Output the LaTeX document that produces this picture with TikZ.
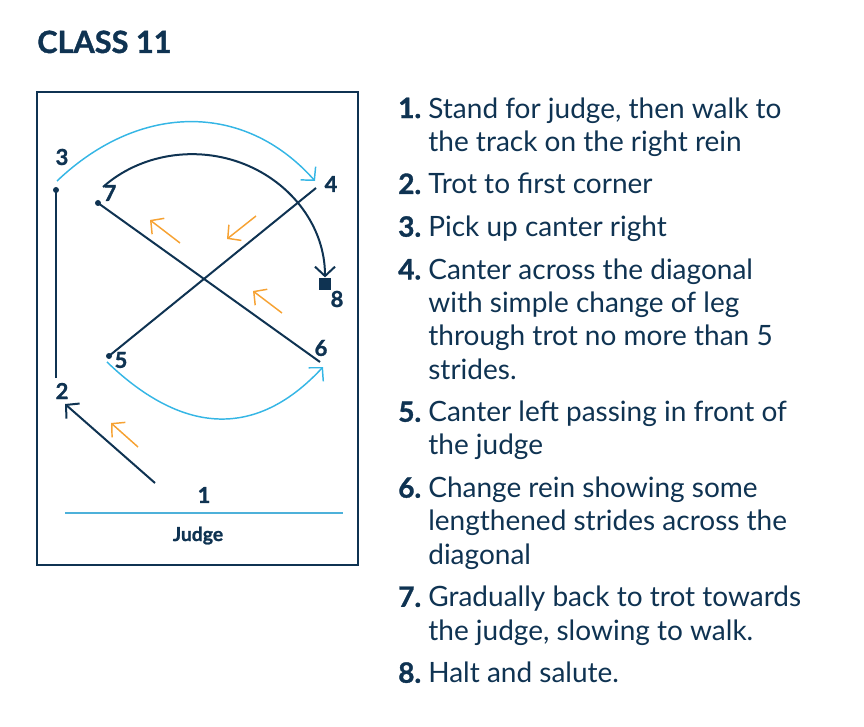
\documentclass[tikz,border=0pt]{standalone}
\usepackage{fontspec}
\setmainfont{Lato}[BoldFeatures={FakeBold=1.2}]
\usepackage{xcolor}
\usepackage{tikz}
\usetikzlibrary{arrows.meta,positioning}

\definecolor{navy}{HTML}{0F3352}
\definecolor{canterblue}{HTML}{35B6E5}
\definecolor{legorange}{HTML}{F6A233}
\definecolor{judgeline}{HTML}{4DB1DA}

\newcommand{\stepno}[1]{\textbf{#1.}\ }
\newcommand{\stepgap}[1]{\hphantom{\textbf{#1.}\ }}

\begin{document}
\begin{tikzpicture}[x=0.75pt, y=-0.75pt,
  walk/.style={draw=navy, line width=1.5pt},
  canter/.style={draw=canterblue, line width=1.1pt},
  leg/.style={draw=legorange, line width=1.1pt},
  tip/.style={-{Straight Barb[length=7pt,width=15pt]}},
  dot/.style={circle, fill=navy, inner sep=0pt, minimum size=4.5pt},
  halt/.style={rectangle, fill=navy, inner sep=0pt, minimum size=9.5pt},
  num/.style={text=navy, inner sep=0pt, font=\fontsize{16.5}{19}\selectfont\bfseries},
  stepbox/.style={anchor=north west, align=left, inner sep=0pt, text=navy, font=\fontsize{21}{24.9}\selectfont}]
\useasboundingbox (0,0) rectangle (864,727);

\node (title) [anchor=base west, inner sep=0pt, text=navy, font=\fontsize{23}{27}\selectfont\bfseries] at (37,53) {CLASS 11};

% arena
\draw [navy, line width=0.8pt] (37,92) rectangle (358,565);
\coordinate (jl) at (65,513);
\coordinate (jr) at (343,513);
\draw [judgeline, line width=0.8pt] (jl) -- (jr);
\node (judge) [anchor=base, inner sep=0pt, text=navy, font=\fontsize{14.5}{17}\selectfont\bfseries] at (198,541) {Judge};

% markers
\node (l1) [num] at (204,495) {1};
\node (l2) [num] at (62,391) {2};
\node (l3) [num] at (62,157) {3};
\node (l4) [num] at (331,184) {4};
\node (l5) [num] at (121,360) {5};
\node (l6) [num] at (321,348) {6};
\node (l7) [num] at (110,193) {7};
\node (l8) [num] at (337,299) {8};

% points of the test
\coordinate (p1) at (155,483);
\coordinate (p2) at (65,404);
\coordinate (p2b) at (56,378);
\node (d3) [dot] at (56,190) {};
\coordinate (c3) at (57,181);
\coordinate (c4) at (315,181);
\coordinate (p4) at (316,188);
\node (d5) [dot] at (109,356) {};
\coordinate (c5) at (107,362);
\coordinate (c6) at (323,367);
\coordinate (p6) at (320,362);
\node (d7) [dot] at (98,203) {};
\coordinate (c7) at (103,187);
\coordinate (m7) at (244,164);
\node (h8) [halt] at (325,284) {};

\draw [walk, tip] (p1) -- (p2);
\draw [walk] (p2b) -- (d3.center);
\draw [canter, tip] (c3) .. controls (140,102) and (245,102) .. (c4);
\draw [walk] (d5.center) -- (p4);
\draw [canter, tip] (c5) .. controls (185,437) and (258,437) .. (c6);
\draw [walk] (d7.center) -- (p6);
\draw [walk, tip] (c7) .. controls (140,154) and (196,145) .. (m7) .. controls (292,183) and (325,227) .. (h8.north);

% leg arrows
\coordinate (o1a) at (180,243);
\coordinate (o1b) at (150,220);
\coordinate (o2a) at (256,216);
\coordinate (o2b) at (227,239);
\coordinate (o3a) at (282,313);
\coordinate (o3b) at (253,291);
\coordinate (o4a) at (138,447);
\coordinate (o4b) at (111,423);
\draw [leg, tip] (o1a) -- (o1b);
\draw [leg, tip] (o2a) -- (o2b);
\draw [leg, tip] (o3a) -- (o3b);
\draw [leg, tip] (o4a) -- (o4b);

% steps
\node (t1) [stepbox] at (398,94.5) {\strut\stepno{1}Stand for judge, then walk to\\\stepgap{1}the track on the right rein\strut};
\node (t2) [stepbox, below=6.75pt of t1.south west, anchor=north west] {\strut\stepno{2}Trot to first corner\strut};
\node (t3) [stepbox, below=6.75pt of t2.south west, anchor=north west] {\strut\stepno{3}Pick up canter right\strut};
\node (t4) [stepbox, below=6.75pt of t3.south west, anchor=north west] {\strut\stepno{4}Canter across the diagonal\\\stepgap{4}with simple change of leg\\\stepgap{4}through trot no more than 5\\\stepgap{4}strides.\strut};
\node (t5) [stepbox, below=6.75pt of t4.south west, anchor=north west] {\strut\stepno{5}Canter left passing in front of\\\stepgap{5}the judge\strut};
\node (t6) [stepbox, below=6.75pt of t5.south west, anchor=north west] {\strut\stepno{6}Change rein showing some\\\stepgap{6}lengthened strides across the\\\stepgap{6}diagonal\strut};
\node (t7) [stepbox, below=6.75pt of t6.south west, anchor=north west] {\strut\stepno{7}Gradually back to trot towards\\\stepgap{7}the judge, slowing to walk.\strut};
\node (t8) [stepbox, below=6.75pt of t7.south west, anchor=north west] {\strut\stepno{8}Halt and salute.\strut};
\end{tikzpicture}
\end{document}
